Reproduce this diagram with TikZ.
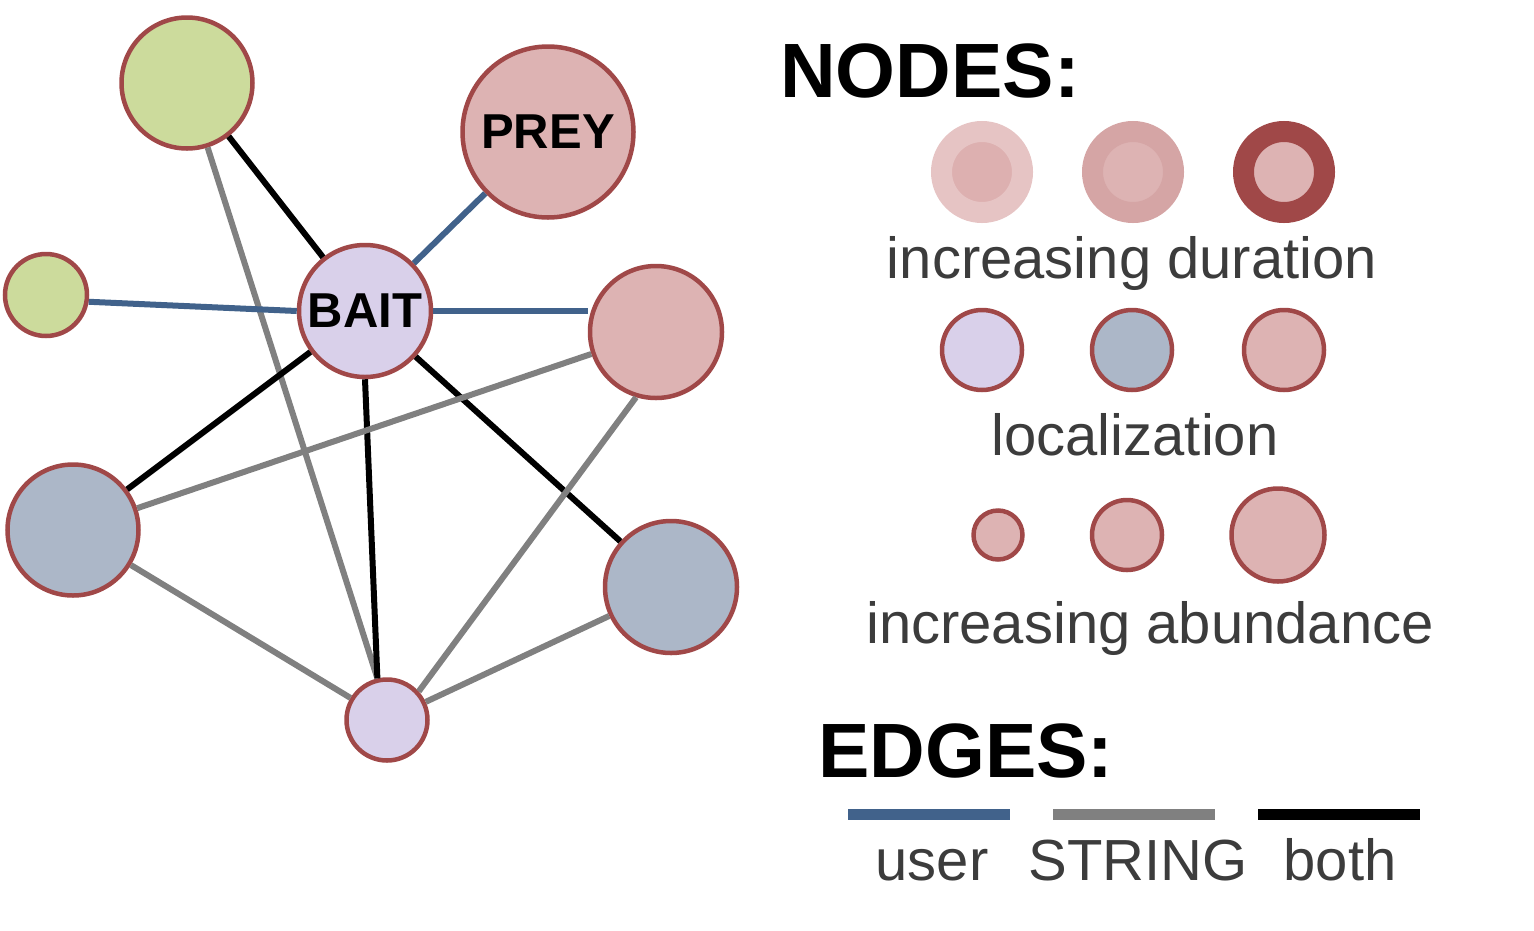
\documentclass[tikz,border=0pt]{standalone}
\usepackage{fontspec}
\setmainfont{Liberation Sans}
\usetikzlibrary{positioning}

\definecolor{rim}{HTML}{A04848}
\definecolor{pinkfill}{HTML}{DDB3B3}
\definecolor{greenfill}{HTML}{CCDB9C}
\definecolor{lavfill}{HTML}{D9D0EA}
\definecolor{bluefill}{HTML}{ACB7C8}
\definecolor{useredge}{HTML}{41628B}
\definecolor{stringedge}{HTML}{808080}
\definecolor{legendtext}{HTML}{3C3C3C}
\definecolor{durlow}{HTML}{E6C4C4}
\definecolor{durlowin}{HTML}{DDB0B0}
\definecolor{durmid}{HTML}{D5A5A5}

\newcommand{\headfont}{\fontsize{77}{80}\selectfont\bfseries}
\newcommand{\labelfont}{\fontsize{58}{60}\selectfont}
\newcommand{\protfont}{\fontsize{49}{52}\selectfont\bfseries}

\tikzset{
  prot/.style={circle, draw=rim, line width=4.5pt, inner sep=0pt, minimum size=#1},
  user/.style={draw=useredge, line width=6pt},
  string/.style={draw=stringedge, line width=6pt},
  both/.style={draw=black, line width=6pt},
  legtext/.style={anchor=base, text=legendtext, inner sep=0pt, font=\labelfont},
  durring/.style={circle, inner sep=0pt, line width=21pt, minimum size=81pt}
}

\begin{document}
\begin{tikzpicture}[x=1pt, y=-1pt]
    \useasboundingbox (0,0) rectangle (1534,930);
    %%% Network
    \node[prot=131pt, fill=greenfill] (gtop) at (187,83) {};
    \node[prot=171pt, fill=pinkfill, font=\protfont] (prey) at (548,132) {PREY};
    \node[prot=82pt, fill=greenfill] (gsmall) at (46,295) {};
    \node[prot=132pt, fill=lavfill, font=\protfont] (bait) at (365,311) {BAIT};
    \node[prot=132pt, fill=pinkfill] (pright) at (656,332) {};
    \node[prot=131pt, fill=bluefill] (bleft) at (73,530) {};
    \node[prot=132pt, fill=bluefill] (bright) at (671,587) {};
    \node[prot=81pt, fill=lavfill] (lbottom) at (387,720) {};
    %
    \draw[both] (gtop) -- (bait);
    \draw[string] (gtop) -- (lbottom.103);
    \draw[user] (prey) -- (bait);
    \draw[user] (gsmall.-9) -- (bait.west);
    \draw[user] (bait.east) -- (pright.west |- bait.east);
    \draw[both] (bait) -- (bleft);
    \draw[both] (bait.south) -- (lbottom.103);
    \draw[both] (bait) -- (bright);
    \draw[string] (bleft) -- (pright);
    \draw[string] (bleft) -- (lbottom);
    \draw[string] (pright.253) -- (lbottom.42);
    \draw[string] (bright) -- (lbottom);
    %
    %%% Legend: nodes
    \node[anchor=base west, inner sep=0pt, font=\headfont] (nodeshead) at (780,97) {NODES:};
    \node[durring, draw=durlow, fill=durlowin] (dur1) at (982,172) {};
    \node[durring, draw=durmid, fill=pinkfill] (dur2) at (1133,172) {};
    \node[durring, draw=rim, fill=pinkfill] (dur3) at (1284,172) {};
    \node[legtext] (durlabel) at (1132,278) {increasing duration};
    %
    \node[prot=80pt, fill=lavfill] (loc1) at (982,350) {};
    \node[prot=80pt, fill=bluefill] (loc2) at (1132,350) {};
    \node[prot=80pt, fill=pinkfill] (loc3) at (1284,350) {};
    \node[legtext] (loclabel) at (1135,455) {localization};
    %
    \node[prot=49pt, fill=pinkfill] (ab1) at (998,535) {};
    \node[prot=70pt, fill=pinkfill] (ab2) at (1127,535) {};
    \node[prot=93pt, fill=pinkfill] (ab3) at (1278,535) {};
    \node[legtext] (ablabel) at (1150,643) {increasing abundance};
    %
    %%% Legend: edges
    \node[anchor=base west, inner sep=0pt, font=\headfont] (edgeshead) at (818,777) {EDGES:};
    \coordinate (u1) at (848,814);
    \coordinate (u2) at (1010,814);
    \coordinate (s1) at (1053,814);
    \coordinate (s2) at (1215,814);
    \coordinate (b1) at (1258,814);
    \coordinate (b2) at (1420,814);
    \draw[user, line width=11pt] (u1) -- (u2);
    \draw[string, line width=11pt] (s1) -- (s2);
    \draw[both, line width=11pt] (b1) -- (b2);
    \node[legtext] (userlabel) at (932,880) {user};
    \node[legtext] (stringlabel) at (1138,880) {STRING};
    \node[legtext] (bothlabel) at (1340,880) {both};
\end{tikzpicture}
\end{document}
